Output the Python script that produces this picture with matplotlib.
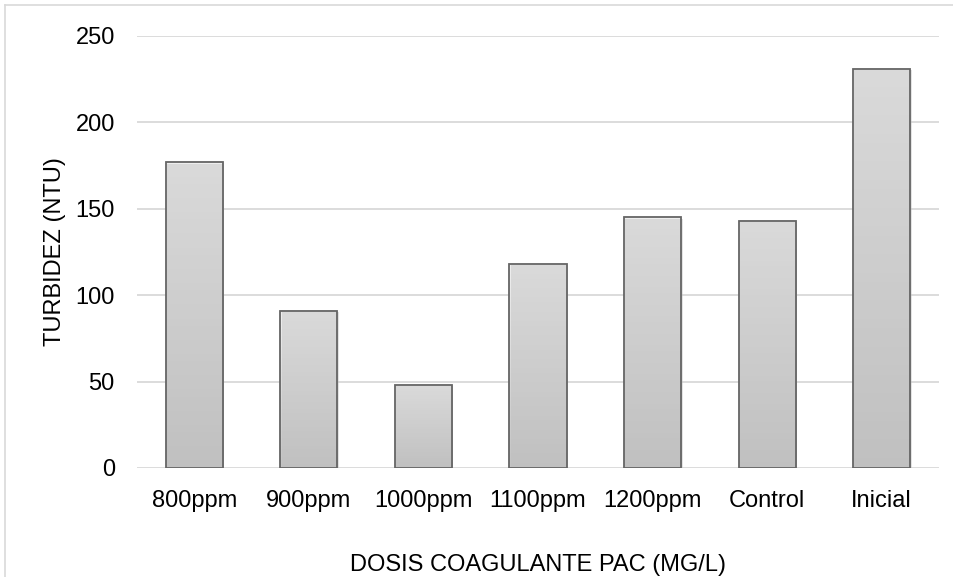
import matplotlib
matplotlib.use("Agg")
import matplotlib.pyplot as plt
import numpy as np
from matplotlib.colors import LinearSegmentedColormap
from matplotlib.lines import Line2D
import matplotlib.patheffects as pe

categories = ["800ppm", "900ppm", "1000ppm", "1100ppm", "1200ppm", "Control", "Inicial"]
values = [177, 91, 48, 118, 145, 143, 231]
yticks = [0, 50, 100, 150, 200, 250]

plt.rcParams['font.family'] = ['Liberation Sans', 'DejaVu Sans']

fig = plt.figure(figsize=(9.54, 5.77), dpi=100)
ax = fig.add_axes([137/954, 1-468/577, (939-137)/954, (468-36)/577])

cmap = LinearSegmentedColormap.from_list("g", ["#c4c4c4", "#efefef"])
grad = np.linspace(0, 1, 256).reshape(-1, 1)
width = 0.5
x = np.arange(len(categories))

ax.yaxis.grid(True, color="#d9d9d9", linewidth=1.3)
ax.set_axisbelow(True)
for s in ax.spines.values():
    s.set_visible(False)

bars = ax.bar(x, values, width=width, facecolor="none", edgecolor="#656565",
              linewidth=1.3, zorder=3)
for b in bars:
    b.set_path_effects([pe.SimplePatchShadow(offset=(1.0, -1.0), shadow_rgbFace="#bbbbbb", alpha=0.4), pe.Normal()])
    x0, y0 = b.get_x(), b.get_y()
    w, h = b.get_width(), b.get_height()
    ax.imshow(grad, cmap=cmap, aspect="auto", origin="lower",
              extent=[x0, x0 + w, y0, y0 + h], zorder=2.5,
              interpolation="bilinear")
ax.set_xlim(-0.5, len(categories) - 0.5)
ax.set_ylim(0, 250)
ax.set_yticks(yticks)

ax.set_xticks(x)
ax.set_xticklabels(categories)
ax.tick_params(axis="both", length=0, labelsize=17, colors="#000000")
ax.tick_params(axis="x", pad=16)
ax.tick_params(axis="y", pad=16)

ax.set_xlabel("DOSIS COAGULANTE PAC (MG/L)", fontsize=17, labelpad=30)
ax.set_ylabel("TURBIDEZ (NTU)", fontsize=17, labelpad=7)

# figure border (left and top)
fig.add_artist(Line2D([5/954, 5/954], [0, 1-5/577], transform=fig.transFigure, color="#d9d9d9", linewidth=1.2))
fig.add_artist(Line2D([5/954, 1], [1-5/577, 1-5/577], transform=fig.transFigure, color="#d9d9d9", linewidth=1.2))

fig.savefig("out.png", dpi=100)
